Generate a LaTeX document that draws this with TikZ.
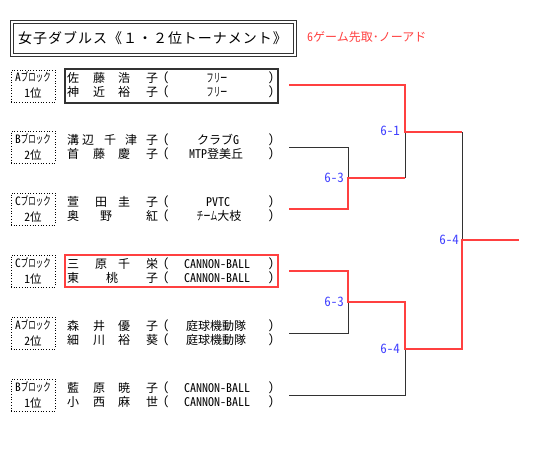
\documentclass[tikz,border=0pt]{standalone}
\usepackage{fontspec}
\usepackage{graphicx}
\setmainfont{Noto Sans CJK JP}
\newfontfamily\hw[RawFeature=+hwid]{Noto Sans CJK JP}
\newfontfamily\titlefont[LetterSpace=7]{Noto Sans CJK JP}
\newcommand\hk[2][0.58]{\scalebox{#1}[1]{#2}}
\definecolor{lred}{RGB}{255,64,64}
\definecolor{lblue}{RGB}{64,64,255}
\definecolor{lgray}{RGB}{50,50,50}
\tikzset{
  pname/.style={inner sep=0pt, anchor=center, font=\fontsize{12}{12}\selectfont},
  club/.style={inner sep=0pt, anchor=center, font=\fontsize{12}{12}\selectfont},
  blk/.style={inner sep=0pt, anchor=center, font=\fontsize{11.5}{11.5}\selectfont},
  blkbox/.style={draw, dotted, line width=0.7pt, minimum width=44pt, minimum height=32pt, inner sep=0pt},
  score/.style={inner sep=0pt, anchor=east, text=lblue, font=\hw\fontsize{13}{13}\selectfont},
  win/.style={draw=lred, line width=2.4pt},
  lose/.style={draw=lgray, line width=0.7pt},
  selbox/.style={minimum width=213pt, inner sep=0pt, line width=2pt},
}
\begin{document}
\begin{tikzpicture}[x=1pt,y=-1pt]
\useasboundingbox (0,0) rectangle (545,458);
% title
\draw[lgray, line width=0.8pt] (10,20) rectangle (296,56);
\draw[lgray, line width=0.8pt] (13,23) rectangle (293,53);
\node[anchor=west, inner sep=0pt, font=\titlefont\fontsize{14}{14}\selectfont] (title) at (18,38) {女子ダブルス《１・２位トーナメント》};
\node[anchor=west, inner sep=0pt, text=lred, font=\fontsize{12}{12}\selectfont] (sub) at (307,37) {{\hw 6}ゲーム先取･ノーアド};

% ---- team 1 : A block 1st (y=85)
\node[selbox, draw=lgray, minimum height=34pt] (t1box) at (171.5,86) {};
\node[blkbox] (t1lb) at (33,86) {};
\node[blk] (t1l1) at (33,77) {{\hw A}\hk[0.65]{ブロック}};
\node[blk] (t1l2) at (33,93) {{\hw 1}位};
\foreach \x/\c [count=\i] in {73/佐,99/藤,124/浩,152/子} \node[pname] (t1a\i) at (\x,78) {\c};
\foreach \x/\c [count=\i] in {73/神,99/近,124/裕,152/子} \node[pname] (t1b\i) at (\x,92) {\c};
\node[club] (t1p1) at (166,78) {\hw (};
\node[club] (t1q1) at (271,78) {\hw )};
\node[club] (t1p2) at (166,92) {\hw (};
\node[club] (t1q2) at (271,92) {\hw )};
\node[club] (t1c1) at (217,78) {\hk{フリー}};
\node[club] (t1c2) at (217,92) {\hk{フリー}};

% ---- team 2 : B block 2nd (y=147)
\node[blkbox] (t2lb) at (33,147) {};
\node[blk] (t2l1) at (33,139) {{\hw B}\hk[0.65]{ブロック}};
\node[blk] (t2l2) at (33,155) {{\hw 2}位};
\foreach \x/\c [count=\i] in {73/溝,88/辺,110/千,131/津,152/子} \node[pname] (t2a\i) at (\x,140) {\c};
\foreach \x/\c [count=\i] in {73/首,99/藤,124/慶,152/子} \node[pname] (t2b\i) at (\x,154) {\c};
\node[club] (t2p1) at (166,140) {\hw (};
\node[club] (t2q1) at (271,140) {\hw )};
\node[club] (t2p2) at (166,154) {\hw (};
\node[club] (t2q2) at (271,154) {\hw )};
\node[club] (t2c1) at (218,140) {クラブ{\hw G}};
\node[club] (t2c2) at (216,154) {{\hw MTP}登美丘};

% ---- team 3 : C block 2nd (y=209)
\node[blkbox] (t3lb) at (33,209) {};
\node[blk] (t3l1) at (33,201) {{\hw C}\hk[0.65]{ブロック}};
\node[blk] (t3l2) at (33,217) {{\hw 2}位};
\foreach \x/\c [count=\i] in {73/萱,101/田,124/圭,152/子} \node[pname] (t3a\i) at (\x,202) {\c};
\foreach \x/\c [count=\i] in {73/奥,106/野,152/紅} \node[pname] (t3b\i) at (\x,216) {\c};
\node[club] (t3p1) at (166,202) {\hw (};
\node[club] (t3q1) at (271,202) {\hw )};
\node[club] (t3p2) at (166,216) {\hw (};
\node[club] (t3q2) at (271,216) {\hw )};
\node[club] (t3c1) at (218,202) {\hw PVTC};
\node[club] (t3c2) at (219,216) {\hk{チーム}大枝};

% ---- team 4 : C block 1st (y=271)
\node[selbox, draw=lred, minimum height=32pt] (t4box) at (171.5,271) {};
\node[blkbox] (t4lb) at (33,271) {};
\node[blk] (t4l1) at (33,263) {{\hw C}\hk[0.65]{ブロック}};
\node[blk] (t4l2) at (33,279) {{\hw 1}位};
\foreach \x/\c [count=\i] in {73/三,101/原,124/千,152/栄} \node[pname] (t4a\i) at (\x,264) {\c};
\foreach \x/\c [count=\i] in {73/東,112/桃,152/子} \node[pname] (t4b\i) at (\x,278) {\c};
\node[club] (t4p1) at (166,264) {\hw (};
\node[club] (t4q1) at (271,264) {\hw )};
\node[club] (t4p2) at (166,278) {\hw (};
\node[club] (t4q2) at (271,278) {\hw )};
\node[club] (t4c1) at (217,264) {\hw CANNON-BALL};
\node[club] (t4c2) at (217,278) {\hw CANNON-BALL};

% ---- team 5 : A block 2nd (y=333)
\node[blkbox] (t5lb) at (33,333) {};
\node[blk] (t5l1) at (33,325) {{\hw A}\hk[0.65]{ブロック}};
\node[blk] (t5l2) at (33,341) {{\hw 2}位};
\foreach \x/\c [count=\i] in {73/森,99/井,124/優,152/子} \node[pname] (t5a\i) at (\x,326) {\c};
\foreach \x/\c [count=\i] in {73/細,99/川,124/裕,152/葵} \node[pname] (t5b\i) at (\x,340) {\c};
\node[club] (t5p1) at (166,326) {\hw (};
\node[club] (t5q1) at (271,326) {\hw )};
\node[club] (t5p2) at (166,340) {\hw (};
\node[club] (t5q2) at (271,340) {\hw )};
\node[club] (t5c1) at (216,326) {庭球機動隊};
\node[club] (t5c2) at (216,340) {庭球機動隊};

% ---- team 6 : B block 1st (y=395)
\node[blkbox] (t6lb) at (33,395) {};
\node[blk] (t6l1) at (33,387) {{\hw B}\hk[0.65]{ブロック}};
\node[blk] (t6l2) at (33,403) {{\hw 1}位};
\foreach \x/\c [count=\i] in {73/藍,99/原,124/暁,152/子} \node[pname] (t6a\i) at (\x,388) {\c};
\foreach \x/\c [count=\i] in {73/小,99/西,124/麻,152/世} \node[pname] (t6b\i) at (\x,402) {\c};
\node[club] (t6p1) at (166,388) {\hw (};
\node[club] (t6q1) at (271,388) {\hw )};
\node[club] (t6p2) at (166,402) {\hw (};
\node[club] (t6q2) at (271,402) {\hw )};
\node[club] (t6c1) at (217,388) {\hw CANNON-BALL};
\node[club] (t6c2) at (217,402) {\hw CANNON-BALL};

% ---- bracket
\coordinate (e1) at (289,85);
\coordinate (e2) at (289,147);
\coordinate (e3) at (289,209);
\coordinate (e4) at (289,271);
\coordinate (e5) at (289,333);
\coordinate (e6) at (289,395);
\coordinate (j23) at (348,178);
\coordinate (j45) at (348,302);
\coordinate (s1) at (405,132);
\coordinate (s2) at (405,349);
\coordinate (fin) at (462,240);
\coordinate (out) at (519,240);

\draw[lose] (e2) -| (j23);
\draw[lose] (j23 -| s1) -- (s1);
\draw[lose] (s1 -| fin) -- (fin);
\draw[lose] (e5) -| (j45);
\draw[lose] (e6) -| (s2);
\draw[win] (e3) -| (j23) -- (j23 -| s1);
\draw[win] (e1) -| (s1) -- (s1 -| fin);
\draw[win] (e4) -| (j45) -- (j45 -| s2) -- (s2) -- (s2 -| fin) -- (fin) -- (out);

\node[score] (sc1) at (344,178) {6-3};
\node[score] (sc2) at (400,131) {6-1};
\node[score] (sc3) at (344,302) {6-3};
\node[score] (sc4) at (400,349) {6-4};
\node[score] (sc5) at (459,240) {6-4};
\end{tikzpicture}
\end{document}
